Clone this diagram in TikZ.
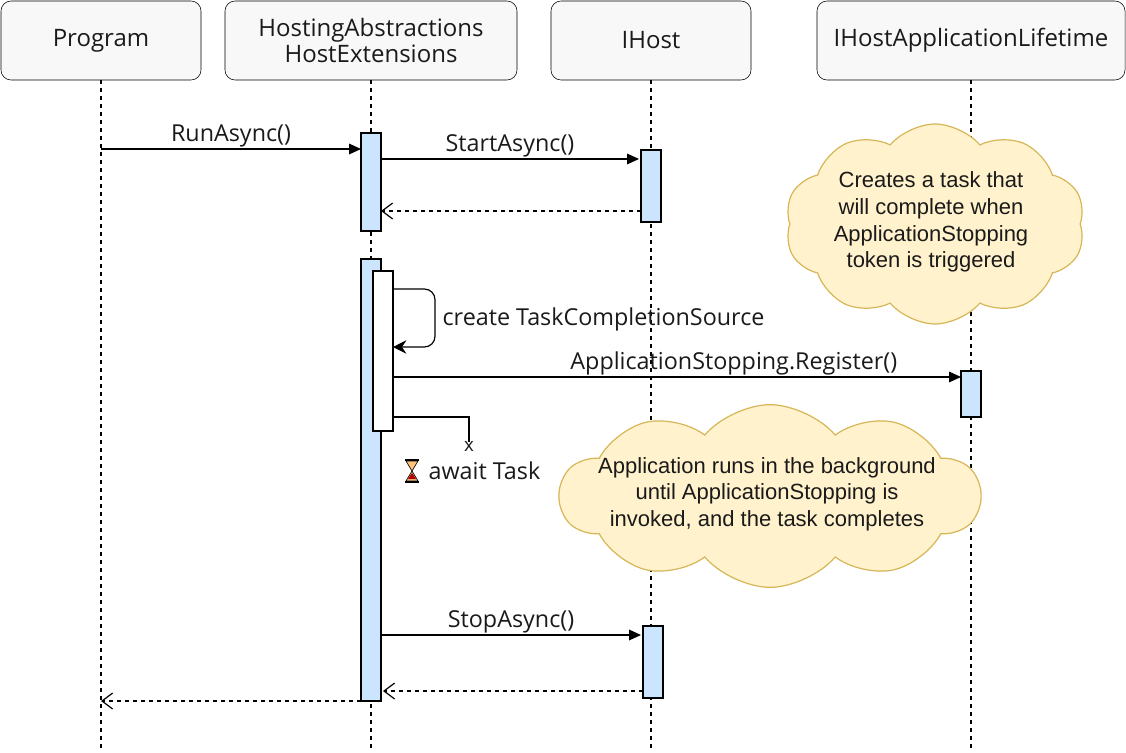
\documentclass[tikz,border=0pt]{standalone}
\usepackage{fontspec}
\setmainfont{Open Sans}
\newfontfamily\cloudfont{Liberation Sans}
\usetikzlibrary{shapes.symbols,arrows.meta}
\definecolor{hdr}{HTML}{F8F8F8}
\definecolor{act}{HTML}{CCE5FF}
\definecolor{cf}{HTML}{FFF2CC}
\definecolor{cd}{HTML}{D6B656}
\definecolor{tx}{HTML}{1A1A1A}
\begin{document}
\begin{tikzpicture}[x=0.75pt,y=-0.75pt,
 hdr/.style={draw,fill=hdr,rounded corners=7.5pt,align=center,inner sep=0,font=\fontsize{18}{20}\selectfont,text=tx},
 life/.style={dashed,line width=0.9pt},
 actb/.style={draw,fill=act,line width=0.9pt},
 msg/.style={-{Triangle[length=9pt,width=8pt]},line width=0.9pt},
 ret/.style={-{Straight Barb[length=8pt,width=12pt]},dashed,line width=0.9pt},
 lbl/.style={font=\fontsize{17.5}{20}\selectfont,text=tx,inner sep=1pt},
 ct/.style={align=center,font=\cloudfont\fontsize{16.5}{20}\selectfont,text=tx},
 cl/.style={cloud,cloud puffs=10,cloud puff arc=100,draw=cd,fill=cf,line width=0.9pt,inner sep=0}]
\useasboundingbox (0,0) rectangle (1126,752);
\node[hdr,minimum width=150pt,minimum height=59.25pt] (p) at (101,40.5) {Program};
\node[hdr,minimum width=219pt,minimum height=59.25pt] (h) at (371,40.5) {HostingAbstractions\\HostExtensions};
\node[hdr,minimum width=150pt,minimum height=59.25pt] (i) at (651,40.5) {IHost};
\node[hdr,minimum width=231pt,minimum height=59.25pt] (l) at (971,40.5) {IHostApplicationLifetime};
\coordinate (pe) at (101,752);\coordinate (he) at (371,752);\coordinate (ie) at (651,752);\coordinate (le) at (971,752);
\draw[life] (p.south)--(pe); \draw[life] (h.south)--(he); \draw[life] (i.south)--(ie); \draw[life] (l.south)--(le);
\node[cl,aspect=1.5,minimum width=225pt,minimum height=150pt] (c1) at (935,224) {};
\node[ct] (t1) at (931,222) {Creates a task that\\will complete when\\ApplicationStopping\\token is triggered};
\node[cl,aspect=2.3,minimum width=315pt,minimum height=137pt] (c2) at (770,496) {};
\node[ct] (t2) at (767,494) {Application runs in the background\\until ApplicationStopping is\\invoked, and the task completes};
\draw[actb] (361,133) rectangle (381,231);
\draw[actb] (361,259) rectangle (381,701);
\draw[line width=0.9pt,fill=white] (373,271) rectangle (393,431);
\draw[actb] (641,150) rectangle (661,222);
\draw[actb] (643,626) rectangle (663,698);
\draw[actb] (961,371) rectangle (981,417);
\draw[msg] (101,149)--(361,149) node[lbl,midway,above] {RunAsync()};
\draw[msg] (381,159)--(639,159) node[lbl,midway,above] {StartAsync()};
\draw[ret] (641,211)--(381,211);
\draw[-{Stealth[length=10pt,width=10pt]},line width=0.9pt,rounded corners=8pt] (393,289)--(435,289)--(435,347)--(393,347);
\node[lbl,anchor=west] at (441,319) {create TaskCompletionSource};
\draw[msg] (393,377)--(961,377) node[lbl,pos=0.6,above] {ApplicationStopping.Register()};
\draw[line width=0.9pt] (393,417)--(469,417)--(469,442);
\node[lbl,font=\fontsize{14}{15}\selectfont] at (469,447) {x};
\begin{scope}[shift={(412,471)}]
\fill[cf!60!orange,draw=black,line width=0.5pt] (-6,-10)--(6,-10)--(0,0)--(6,10)--(-6,10)--(0,0)--cycle;
\fill[red!70!black] (-4,8)--(4,8)--(0,2)--cycle;
\draw[line width=1pt] (-7,-11)--(7,-11) (-7,11)--(7,11);
\end{scope}
\node[lbl,anchor=west] at (427,471) {await Task};
\draw[msg] (381,635)--(641,635) node[lbl,midway,above] {StopAsync()};
\draw[ret] (643,691)--(383,691);
\draw[ret] (361,701)--(101,701);
\end{tikzpicture}
\end{document}
